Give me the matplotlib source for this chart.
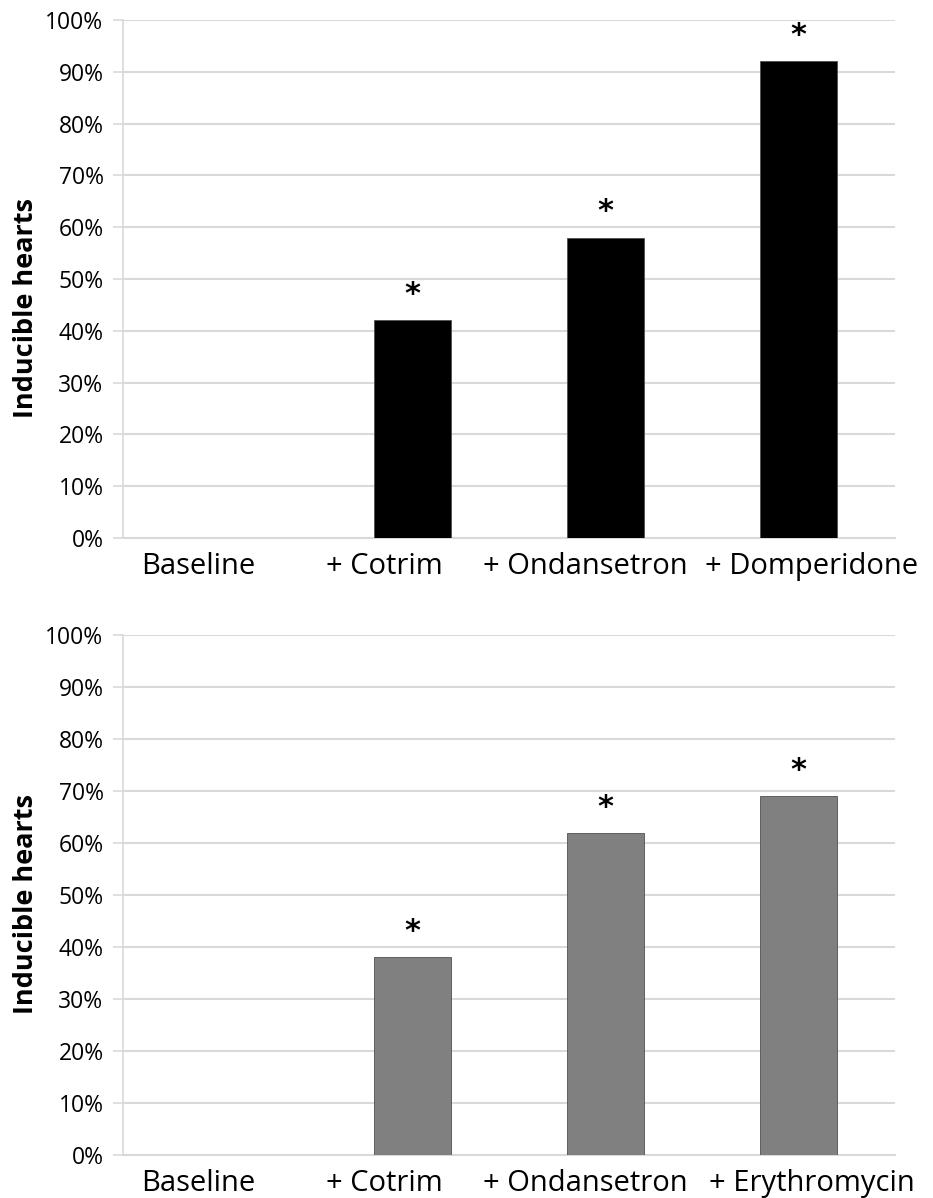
import numpy as np
import matplotlib
matplotlib.use('Agg')
import matplotlib.pyplot as plt
from matplotlib.ticker import PercentFormatter

plt.rcParams['font.family'] = ['Open Sans', 'DejaVu Sans']

# inducible hearts per condition (percent)
top_labels = ['Baseline', '+ Cotrim', '+ Ondansetron', '+ Domperidone']
top_values = [0, 42, 58, 92]
top_signif = [False, True, True, True]

bottom_labels = ['Baseline', '+ Cotrim', '+ Ondansetron', '+ Erythromycin']
bottom_values = [0, 38, 62, 69]
bottom_signif = [False, True, True, True]

yticks = np.arange(0, 101, 10)
grid_col = '#d9d9d9'
# horizontal nudge (px) for the category labels so the long ones don't collide
label_shift = [-21, -28, -20, 13]


def draw_panel(ax, labels, values, signif, color, ylab_pos):
    x = np.arange(len(labels))
    ax.bar(x, values, width=0.4, color=color, edgecolor='#505050',
           linewidth=0.6, zorder=3)
    for xi, v, s in zip(x, values, signif):
        if s:
            ax.annotate('*', (xi, v), xytext=(0, 8), textcoords='offset points',
                        ha='center', va='bottom', fontsize=22,
                        fontweight='bold', family='DejaVu Sans')
    # category names drawn by hand so they can be nudged sideways
    for xi, lab, dx in zip(x, labels, label_shift):
        ax.annotate(lab, (xi, 0), xycoords=('data', 'axes fraction'),
                    xytext=(dx, -14), textcoords='offset pixels',
                    ha='center', va='top', fontsize=21, annotation_clip=False)
    ax.set_xlim(-0.5, 3.5)
    ax.set_ylim(0, 100)
    ax.set_yticks(yticks)
    ax.yaxis.set_major_formatter(PercentFormatter(decimals=0))
    ax.set_xticks(x)
    ax.set_xticklabels([])
    ax.tick_params(axis='x', length=0)
    ax.tick_params(axis='y', length=7, width=1.2, color=grid_col,
                   labelsize=16.5, pad=7)
    ax.grid(axis='y', color=grid_col, linewidth=1.5, zorder=0)
    for side in ['top', 'right']:
        ax.spines[side].set_visible(False)
    ax.spines['left'].set_color(grid_col)
    ax.spines['bottom'].set_color(grid_col)
    ax.spines['left'].set_linewidth(1.2)
    ax.spines['bottom'].set_linewidth(1.5)
    ax.set_ylabel('Inducible hearts', fontsize=19.5, fontweight='bold')
    ax.yaxis.set_label_coords(-0.109, ylab_pos)


fig = plt.figure(figsize=(9.33, 11.98), dpi=100)
ax1 = fig.add_axes([0.1318, 0.5509, 0.8274, 0.4324])
ax2 = fig.add_axes([0.1318, 0.0359, 0.8274, 0.434])

draw_panel(ax1, top_labels, top_values, top_signif, 'black', 0.444)
draw_panel(ax2, bottom_labels, bottom_values, bottom_signif, '#808080', 0.483)

fig.savefig('out.png', dpi=100)
